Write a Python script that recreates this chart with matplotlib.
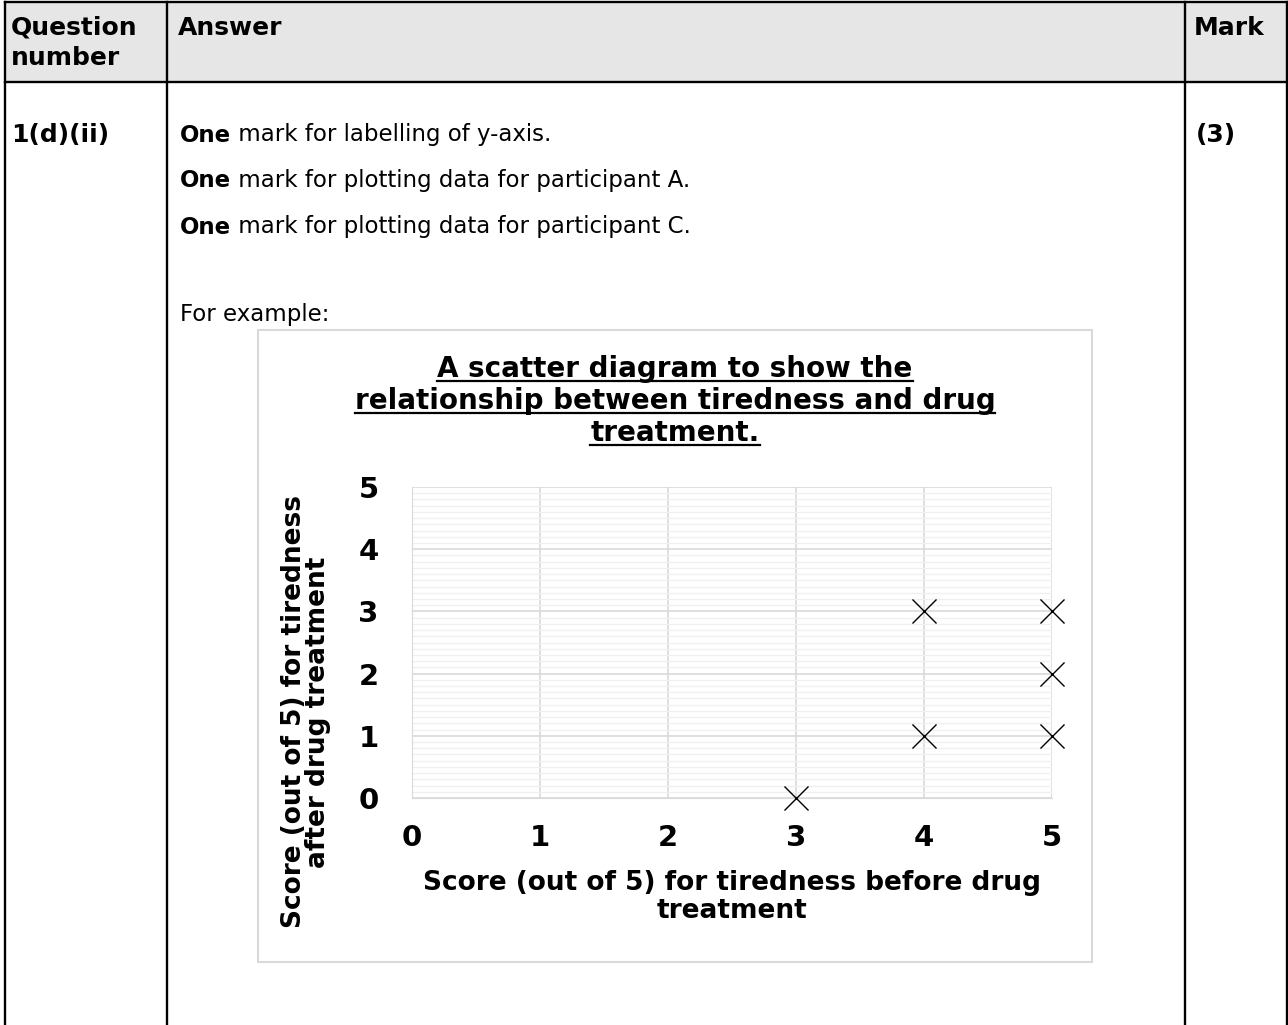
import matplotlib
matplotlib.use("Agg")
import matplotlib.pyplot as plt
from matplotlib.lines import Line2D
from matplotlib.patches import Rectangle
from matplotlib.ticker import MultipleLocator

W, H = 1288, 1025

# data: scores before / after drug treatment
before = [4, 5, 5, 4, 5, 3]
after = [3, 3, 2, 1, 1, 0]
ticks = [0, 1, 2, 3, 4, 5]

title_lines = ["A scatter diagram to show the",
               "relationship between tiredness and drug",
               "treatment."]
xlabel = "Score (out of 5) for tiredness before drug\ntreatment"
ylabel = "Score (out of 5) for tiredness\nafter drug treatment"

answer_lines = [("One", " mark for labelling of y-axis."),
                ("One", " mark for plotting data for participant A."),
                ("One", " mark for plotting data for participant C.")]


def fx(x):
    return x / W


def fy(y):
    return 1 - y / H


fig = plt.figure(figsize=(W / 100, H / 100), dpi=100)
fig.patch.set_facecolor("white")

# ---- table ----
fig.patches.append(Rectangle((fx(5), fy(82)), fx(1287) - fx(5), fy(2) - fy(82),
                             transform=fig.transFigure, facecolor="#e6e6e6",
                             edgecolor="none", zorder=0))
lw = 1.7
for x in [5, 167, 1185, 1287]:
    fig.add_artist(Line2D([fx(x), fx(x)], [fy(2), fy(1025)], color="black", lw=lw))
for y in [2, 82]:
    fig.add_artist(Line2D([fx(5), fx(1287)], [fy(y), fy(y)], color="black", lw=lw))

hs = 18
fig.text(fx(11), fy(28), "Question", fontsize=hs, fontweight="bold", va="center")
fig.text(fx(11), fy(58), "number", fontsize=hs, fontweight="bold", va="center")
fig.text(fx(178), fy(28), "Answer", fontsize=hs, fontweight="bold", va="center")
fig.text(fx(1194), fy(28), "Mark", fontsize=hs, fontweight="bold", va="center")
fig.text(fx(11), fy(135), "1(d)(ii)", fontsize=hs, fontweight="bold", va="center")
fig.text(fx(1196), fy(135), "(3)", fontsize=hs, fontweight="bold", va="center")

bs = 16.5
renderer = fig.canvas.get_renderer()
for i, (b, rest) in enumerate(answer_lines):
    y = 135 + i * 46
    t = fig.text(fx(180), fy(y), b, fontsize=bs, fontweight="bold", va="center")
    bb = t.get_window_extent(renderer)
    fig.text(bb.x1 / W, fy(y), rest, fontsize=bs, va="center")
fig.text(fx(180), fy(315), "For example:", fontsize=bs, va="center")

# ---- chart box ----
fig.patches.append(Rectangle((fx(258), fy(962)), fx(1092) - fx(258), fy(330) - fy(962),
                             transform=fig.transFigure, facecolor="white",
                             edgecolor="#d9d9d9", lw=1.5, zorder=1))

for i, line in enumerate(title_lines):
    base = 377 + i * 32
    t = fig.text(fx(675), fy(base), line, fontsize=20, fontweight="bold",
                 ha="center", va="baseline", zorder=3)
    bb = t.get_window_extent(renderer)
    fig.add_artist(Line2D([bb.x0 / W, bb.x1 / W], [fy(base + 4)] * 2,
                          color="black", lw=1.6, zorder=3))

# ---- axes ----
ax = fig.add_axes([fx(412), fy(798), fx(1052) - fx(412), fy(487) - fy(798)])
ax.set_zorder(2)
ax.set_xlim(0, 5)
ax.set_ylim(0, 5)
ax.set_xticks(ticks)
ax.set_yticks(ticks)
ax.yaxis.set_minor_locator(MultipleLocator(0.1))
ax.grid(which="major", color="#d9d9d9", lw=1.2)
ax.grid(which="minor", axis="y", color="#f0f0f0", lw=1.0)
ax.set_axisbelow(True)
for s in ax.spines.values():
    s.set_visible(False)
ax.spines["left"].set_visible(True)
ax.spines["left"].set_color("#d9d9d9")
ax.spines["bottom"].set_visible(True)
ax.spines["bottom"].set_color("#d9d9d9")
ax.tick_params(which="both", length=0)
ax.tick_params(axis="x", pad=19)
ax.tick_params(axis="y", pad=24)
for lab in ax.get_xticklabels() + ax.get_yticklabels():
    lab.set_fontweight("bold")
    lab.set_fontsize(21)

ax.scatter(before, after, marker="x", s=300, color="black", linewidths=1.0,
           clip_on=False, zorder=4)

ax.set_xlabel(xlabel, fontweight="bold", fontsize=19, linespacing=1.12)
ax.xaxis.set_label_coords(0.5, -0.23)
fig.text(fx(306), fy(712), ylabel, rotation=90, fontsize=19, fontweight="bold",
         ha="center", va="center", multialignment="center", linespacing=0.88)

fig.savefig("out.png", dpi=100, facecolor="white")
